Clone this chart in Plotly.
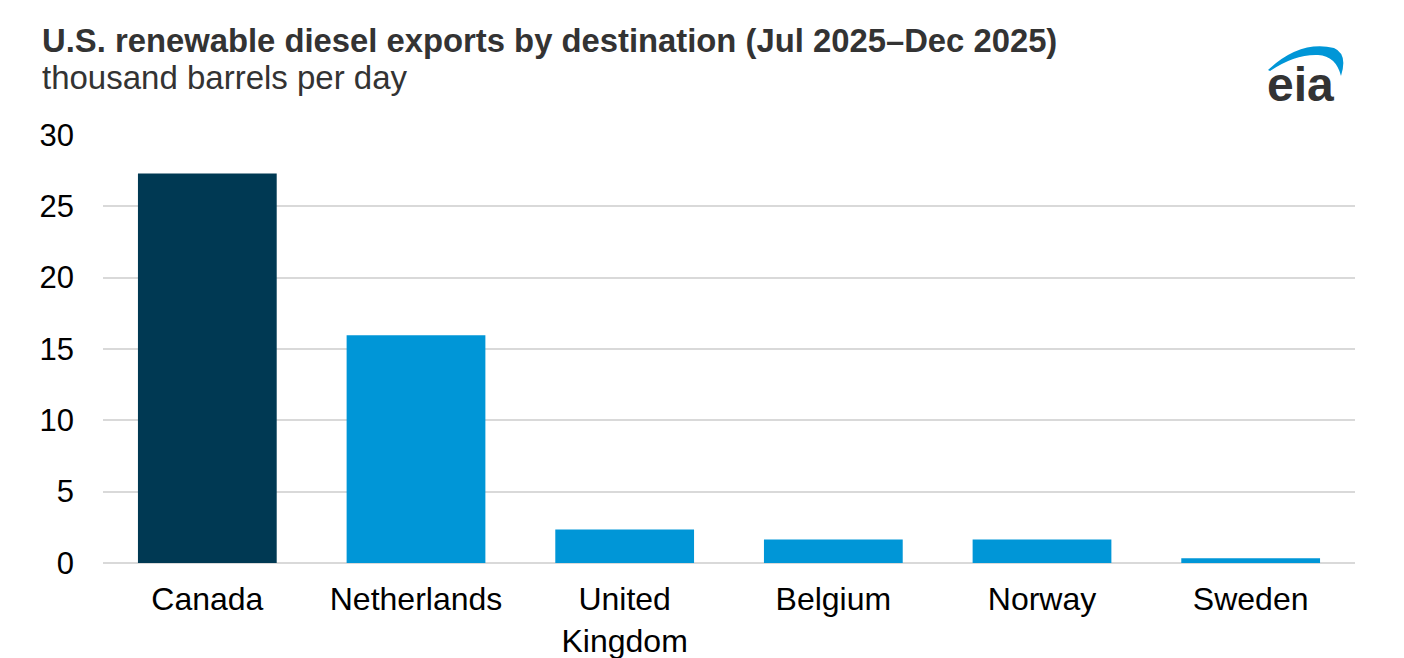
import plotly.graph_objects as go

countries = ["Canada", "Netherlands", "United<br>Kingdom", "Belgium", "Norway", "Sweden"]
exports_kbd = [27.3, 15.95, 2.35, 1.65, 1.65, 0.33]
bar_colors = ["#003953", "#0096D7", "#0096D7", "#0096D7", "#0096D7", "#0096D7"]

title_text = "U.S. renewable diesel exports by destination (Jul 2025\u2013Dec 2025)"
subtitle_text = "thousand barrels per day"

W, H = 1404, 658
OFF = 8  # page body margin
L, R, T, B = 95, 57, 126, 103

# screen pixel -> paper helpers (used only for title/logo placement)
def px(x):
    return (x - OFF - L) / (W - L - R)

def py(y):
    return (H - B - (y - OFF)) / (H - B - T)

fig = go.Figure(go.Bar(
    x=countries,
    y=exports_kbd,
    marker=dict(color=bar_colors, line=dict(width=0)),
    width=0.665,
))

font_name = "Liberation Sans, Arial, sans-serif"

fig.update_layout(
    width=W, height=H,
    margin=dict(l=L, r=R, t=T, b=B),
    plot_bgcolor="white",
    paper_bgcolor="white",
    showlegend=False,
    font=dict(family=font_name, color="black", size=32),
    xaxis=dict(
        showgrid=False, showline=False, zeroline=False,
        tickfont=dict(size=32, color="black"),
        ticklabelstandoff=14, automargin=False,
    ),
    yaxis=dict(
        range=[0, 30.06], tickvals=[0, 5, 10, 15, 20, 25, 30],
        showgrid=True, gridcolor="#d9d9d9", gridwidth=2,
        zeroline=True, zerolinecolor="#d9d9d9", zerolinewidth=2,
        showline=False, automargin=False,
        tickfont=dict(size=31, color="black"),
        ticklabelstandoff=28,
    ),
)

# title and subtitle
fig.add_annotation(text="<b>" + title_text + "</b>", xref="paper", yref="paper",
                   x=px(40), y=py(61), xanchor="left", yanchor="bottom",
                   showarrow=False, font=dict(size=32.8, color="#333333", family=font_name))
fig.add_annotation(text=subtitle_text, xref="paper", yref="paper",
                   x=px(40), y=py(98), xanchor="left", yanchor="bottom",
                   showarrow=False, font=dict(size=33, color="#333333", family=font_name))

# eia logo: swoosh + text
swoosh = (f"M {px(1268)},{py(70)} "
          f"Q {px(1300)},{py(40)} {px(1334)},{py(48)} "
          f"Q {px(1348)},{py(54)} {px(1341)},{py(76)} "
          f"Q {px(1336)},{py(56)} {px(1318)},{py(55)} "
          f"Q {px(1295)},{py(54)} {px(1270)},{py(71)} Z")
fig.add_shape(type="path", path=swoosh, xref="paper", yref="paper",
              fillcolor="#0096D7", line=dict(width=0))
fig.add_annotation(text="<b>eia</b>", xref="paper", yref="paper",
                   x=px(1300), y=py(113), xanchor="center", yanchor="bottom",
                   showarrow=False, font=dict(size=48, color="#333333", family=font_name))

fig.write_html("out.html")
